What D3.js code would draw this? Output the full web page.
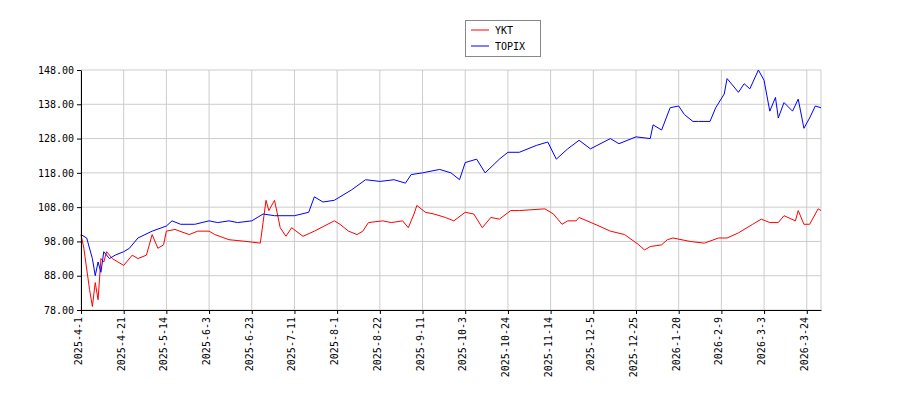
<!DOCTYPE html>
<html><head><meta charset="utf-8">
<script src="https://cdn.jsdelivr.net/npm/d3@7"></script>
<style>body{margin:0;background:#fff}text{font-family:"DejaVu Sans Mono",monospace;font-size:10px}</style>
</head><body><svg id="c" width="900" height="400"></svg>
<script>
const tickLabels=["2025-4-1","2025-4-21","2025-5-14","2025-6-3","2025-6-23","2025-7-11","2025-8-1","2025-8-22","2025-9-11","2025-10-3","2025-10-24","2025-11-14","2025-12-5","2025-12-25","2026-1-20","2026-2-9","2026-3-3","2026-3-24"];
const yTicks=[78,88,98,108,118,128,138,148];
const topixIdx=[0,2,4,5,6,7,8,10,12,15,17,20,25,30,32,35,40,45,48,52,55,60,64,68,75,80,82,85,89,95,100,105,110,114,116,120,126,130,133,135,139,142,147,150,154,160,164,167,171,175,179,186,189,195,200,201,204,207,210,212,215,217,221,223,226,227,231,233,235,238,240,242,244,245,247,250,252,254,256,258,260];
const topixVal=[100,99,93,88,92,89,95,93,94,95,96,99,101,102.5,104,103,103,104,103.5,104,103.5,104,106,105.5,105.5,106.5,111,109.5,110,113,116,115.5,116,115,117.5,118,119,118,116,121,122,118,122,124,124,126,127,122,125,127.5,125,128,126.5,128.5,128,132,130.5,137,137.5,135,133,133,133,137,141,145.5,141.5,144,142.5,148,145,136,140,134,138.5,136,139.5,131,134,137.5,137];
const yktIdx=[0,1,3,4,5,6,7,8,9,11,13,15,18,20,23,25,27,29,30,33,38,41,45,47,52,58,63,65,66,68,70,72,74,78,82,89,91,94,97,99,101,106,109,113,115,117,118,121,124,128,131,135,138,141,144,147,151,154,163,166,169,171,174,175,182,186,191,196,198,200,204,206,208,214,219,224,227,231,236,239,242,245,247,251,252,254,256,259,260];
const yktVal=[100,96,84,79,86,81,93,92,95,93,92,91,94,93,94,100,96,97,101,101.5,100,101,101,100,98.5,98,97.5,110,107,110,102,99.5,102,99.5,101,104,103,101,100,101,103.5,104,103.5,104,102,106,108.5,106.5,106,105,104,106.5,106,102,105,104.5,107,107,107.5,106,103,104,104,105,102.5,101,100,97,95.5,96.5,97,98.5,99,98,97.5,99,99,100.5,103,104.5,103.5,103.5,105.5,104,107,103,103,107.5,107];
const svg=d3.select("#c");
const x=d3.scaleLinear().domain([0,260]).range([81,821]);
const y=d3.scaleLinear().domain([78,148]).range([310,70]);
const g=svg.append("g");
const xt=tickLabels.map((d,i)=>i*15);
g.selectAll(".gx").data(xt).enter().append("line").attr("x1",d=>x(d)).attr("x2",d=>x(d)).attr("y1",70).attr("y2",310).attr("stroke","#ccc");
g.selectAll(".gy").data(yTicks).enter().append("line").attr("x1",81).attr("x2",821).attr("y1",d=>y(d)).attr("y2",d=>y(d)).attr("stroke","#ccc");
g.append("line").attr("x1",821).attr("x2",821).attr("y1",70).attr("y2",310).attr("stroke","#ccc");
const ln=d3.line().x(d=>x(d[0])).y(d=>y(d[1]));
g.append("path").attr("d",ln(yktIdx.map((d,i)=>[d,yktVal[i]]))).attr("fill","none").attr("stroke","#f00").attr("stroke-width",1);
g.append("path").attr("d",ln(topixIdx.map((d,i)=>[d,topixVal[i]]))).attr("fill","none").attr("stroke","#00f").attr("stroke-width",1);
const ay=svg.append("g").attr("transform","translate(81,0)").call(d3.axisLeft(y).tickValues(yTicks).tickFormat(d3.format(".2f")).tickSize(4).tickSizeOuter(0));
const ax=svg.append("g").attr("transform","translate(0,310)").call(d3.axisBottom(x).tickValues(xt).tickFormat((d,i)=>tickLabels[i]).tickSize(4).tickSizeOuter(0));
ax.selectAll("text").attr("transform","rotate(-90)").attr("text-anchor","end").attr("x",-7).attr("y",-3).attr("dy","0.35em");
svg.selectAll(".domain,.tick line").attr("stroke","#000");
svg.selectAll(".tick text").attr("fill","#000").style("font-family","DejaVu Sans Mono").style("font-size","10px");
const lg=svg.append("g");
lg.append("rect").attr("x",465.5).attr("y",20.5).attr("width",75).attr("height",36).attr("fill","#fff").attr("stroke","#888");
[["YKT","#f00"],["TOPIX","#00f"]].forEach((s,i)=>{
 lg.append("line").attr("x1",471).attr("x2",489).attr("y1",30+i*16).attr("y2",30+i*16).attr("stroke",s[1]);
 lg.append("text").attr("x",495).attr("y",30+i*16).attr("dy","0.35em").text(s[0]);
});
</script></body></html>
